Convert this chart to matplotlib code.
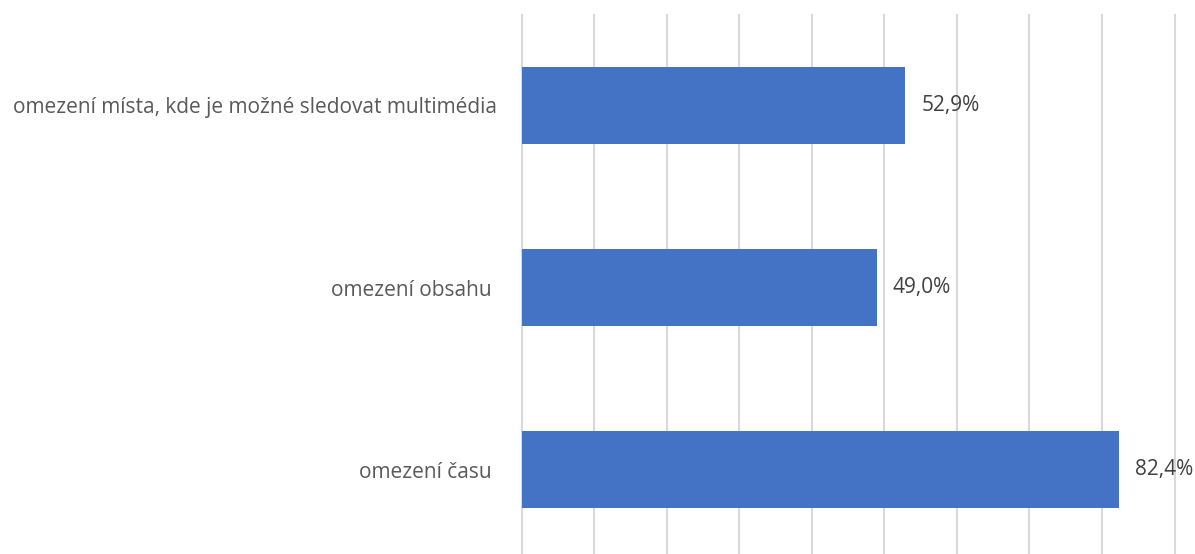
import matplotlib.pyplot as plt
import numpy as np

# data
categories = ['omezení času ', 'omezení obsahu ', 'omezení místa, kde je možné sledovat multimédia']
values = [82.4, 49.0, 52.9]
value_labels = ['82,4%', '49,0%', '52,9%']

plt.rcParams['font.family'] = ['Open Sans', 'DejaVu Sans']

fig = plt.figure(figsize=(11.95, 5.54), dpi=100)
ax = fig.add_axes([521.5 / 1195, -6.5 / 554, 653 / 1195, 546 / 554])

y = np.arange(len(categories))
ax.barh(y, values, height=0.42, color='#4472C4', zorder=3)

for yi, v, lab in zip(y, values, value_labels):
    ax.text(v + 2.2, yi, lab, va='center', ha='left', fontsize=15, color='#404040')

ax.set_xlim(0, 90)
ax.set_ylim(-0.5, 2.5)
ax.set_xticks(np.arange(0, 91, 10))
ax.xaxis.grid(True, color='#D9D9D9', linewidth=1.5, zorder=0)
for gl in ax.get_xgridlines():
    gl.set_clip_on(False)
ax.tick_params(axis='x', length=0, labelbottom=False)
ax.tick_params(axis='y', length=0, pad=17.5, labelsize=15, labelcolor='#595959')
ax.set_yticks(y)
ax.set_yticklabels(categories)
for s in ax.spines.values():
    s.set_visible(False)

fig.savefig('out.png', dpi=100)
